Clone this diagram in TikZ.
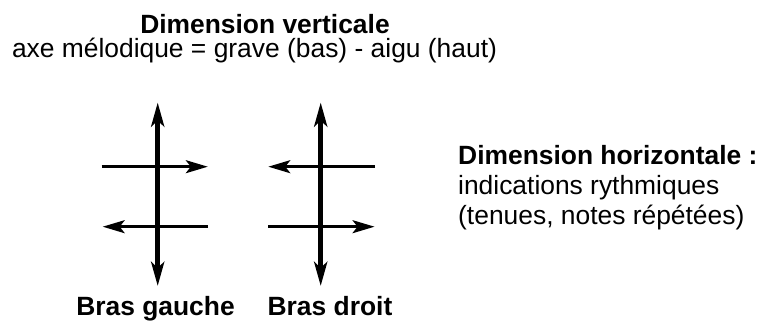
\documentclass[tikz,border=0pt]{standalone}
\usepackage{fontspec}
\setmainfont{Liberation Sans}
\usetikzlibrary{arrows.meta}

\begin{document}
\begin{tikzpicture}[x=1pt, y=-1pt,
                        every node/.style={inner sep=0pt, font=\fontsize{26.4pt}{30pt}\selectfont},
                        titre/.style={anchor=base, font=\fontsize{26.4pt}{30pt}\selectfont\bfseries},
                        texte/.style={anchor=base},
                        axe/.style={line width=5pt, {Stealth[length=24pt,width=13pt,inset=6pt]}-{Stealth[length=24pt,width=13pt,inset=6pt]}},
                        bras/.style={line width=2.5pt, -{Stealth[length=22pt,width=13pt,inset=5pt]}}]
                        \useasboundingbox (0,0) rectangle (762,326);

                                % titres du haut
                                \node[titre] (vert) at (265,34) {Dimension verticale};
                                \node[texte] (melo) at (254.5,58) {axe mélodique = grave (bas) - aigu (haut)};

                                % bras gauche
                                \coordinate (gHaut) at (157.7,102.5);
                                \coordinate (gBas) at (157.7,286);
                                \coordinate (gA) at (101.5,166.7);
                                \coordinate (gB) at (207.8,166.7);
                                \coordinate (gC) at (208,226.7);
                                \coordinate (gD) at (102.7,226.7);
                                \draw[axe] (gBas) -- (gHaut);
                                \draw[bras] (gA) -- (gB);
                                \draw[bras] (gC) -- (gD);

                                % bras droit
                                \coordinate (dHaut) at (320.7,102.5);
                                \coordinate (dBas) at (320.7,286);
                                \coordinate (dA) at (375,166.7);
                                \coordinate (dB) at (268.3,166.7);
                                \coordinate (dC) at (268,226.7);
                                \coordinate (dD) at (374.5,226.7);
                                \draw[axe] (dBas) -- (dHaut);
                                \draw[bras] (dA) -- (dB);
                                \draw[bras] (dC) -- (dD);

                                % legendes
                                \node[titre] (gauche) at (155.5,315) {Bras gauche};
                                \node[titre] (droit) at (330,315) {Bras droit};

                                \node[titre, anchor=base west] (horiz) at (458,164.3) {Dimension horizontale :};
                                \node[texte, anchor=base west] (rythme) at (458,194.3) {indications rythmiques};
                                \node[texte, anchor=base west] (tenues) at (458,224.3) {(tenues, notes répétées)};
                    \end{tikzpicture}
\end{document}
